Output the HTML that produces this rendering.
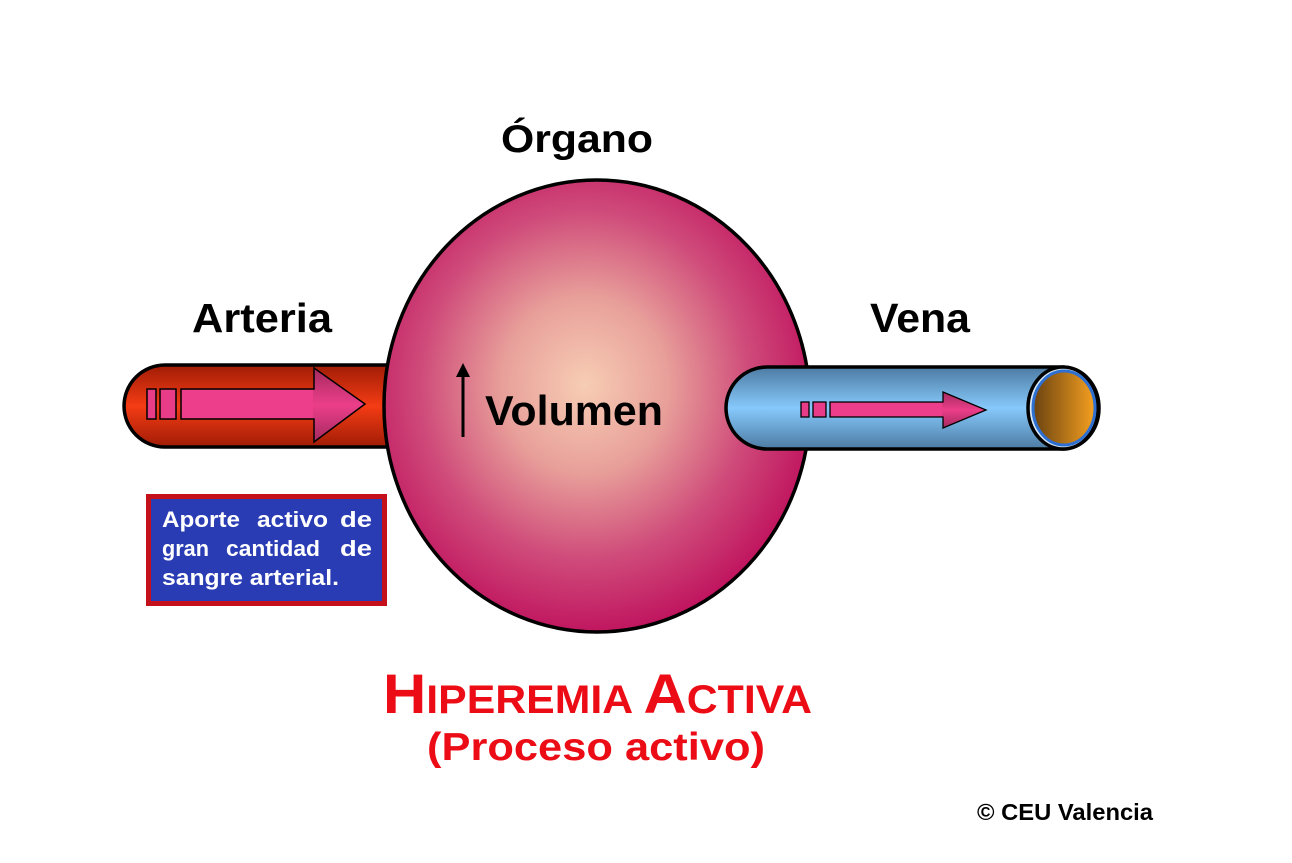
<!DOCTYPE html>
<html><head><meta charset="utf-8"><style>
html,body{margin:0;padding:0;background:#fff;}
svg{display:block;}
text{font-family:"Liberation Sans",Arial,sans-serif;font-weight:bold;}
</style></head><body>
<svg width="1292" height="863" viewBox="0 0 1292 863" xmlns="http://www.w3.org/2000/svg">
<defs>
<linearGradient id="art" x1="0" y1="0" x2="0" y2="1">
<stop offset="0" stop-color="#a01c06"/>
<stop offset="0.5" stop-color="#f43c14"/>
<stop offset="1" stop-color="#a01c06"/>
</linearGradient>
<linearGradient id="ven" x1="0" y1="0" x2="0" y2="1">
<stop offset="0" stop-color="#4d7ba3"/>
<stop offset="0.5" stop-color="#86c9fb"/>
<stop offset="1" stop-color="#4d7ba3"/>
</linearGradient>
<radialGradient id="org" cx="585" cy="385" r="235" gradientUnits="userSpaceOnUse" gradientTransform="translate(585 385) scale(1 1.06) translate(-585 -385)">
<stop offset="0" stop-color="#f7cdb4"/>
<stop offset="0.35" stop-color="#e8a09a"/>
<stop offset="0.7" stop-color="#cf4b7a"/>
<stop offset="1" stop-color="#c0155f"/>
</radialGradient>
<linearGradient id="arrH" x1="0" y1="0" x2="0" y2="1">
<stop offset="0" stop-color="#a42a5e"/>
<stop offset="0.5" stop-color="#ec3e8a"/>
<stop offset="1" stop-color="#a42a5e"/>
</linearGradient>
<linearGradient id="hole" x1="0" y1="0" x2="1" y2="0">
<stop offset="0" stop-color="#6a4210"/>
<stop offset="1" stop-color="#f5a020"/>
</linearGradient>
</defs>

<!-- Artery tube (behind organ) -->
<path d="M165 365 H420 V447 H165 A41 41 0 0 1 165 365 Z" fill="url(#art)" stroke="#000" stroke-width="3.5"/>
<!-- Artery arrow -->
<rect x="147" y="389" width="9" height="30" fill="#e83c88" stroke="#000" stroke-width="1.5"/>
<rect x="160" y="389" width="16" height="30" fill="#e83c88" stroke="#000" stroke-width="1.5"/>
<path d="M181 389 H314 V368 L365 404 L314 442 V419 H181 Z" fill="url(#arrH)" stroke="#000" stroke-width="1.5"/>
<path d="M182 390 H313 V418 H182 Z" fill="#ec3e8a"/>

<!-- Organ -->
<ellipse cx="597" cy="406" rx="213" ry="226" fill="url(#org)" stroke="#000" stroke-width="3.5"/>

<!-- Vein tube (over organ) -->
<path d="M767 367 H1063 A36 41 0 0 1 1063 449 H767 A41 41 0 0 1 767 367 Z" fill="url(#ven)" stroke="#000" stroke-width="3.5"/>
<ellipse cx="1063" cy="408" rx="35" ry="41" fill="#d8e8f4" stroke="#000" stroke-width="3.5"/>
<ellipse cx="1064" cy="408" rx="31" ry="37" fill="url(#hole)" stroke="#2e6fd2" stroke-width="3"/>
<!-- Vein arrow -->
<rect x="801" y="402" width="8" height="15" fill="#e83c88" stroke="#000" stroke-width="1.3"/>
<rect x="813" y="402" width="13" height="15" fill="#e83c88" stroke="#000" stroke-width="1.3"/>
<path d="M830 402 H943 V392 L986 410 L943 428 V417 H830 Z" fill="url(#arrH)" stroke="#000" stroke-width="1.3"/>
<path d="M831 403 H942 V416 H831 Z" fill="#ec3e8a"/>

<!-- Labels -->
<text x="501" y="152" font-size="39" textLength="152" lengthAdjust="spacingAndGlyphs" fill="#000">Órgano</text>
<text x="192" y="332" font-size="41" textLength="140" lengthAdjust="spacingAndGlyphs" fill="#000">Arteria</text>
<text x="870" y="332" font-size="41" textLength="100" lengthAdjust="spacingAndGlyphs" fill="#000">Vena</text>
<text x="485" y="425" font-size="42" textLength="178" lengthAdjust="spacingAndGlyphs" fill="#000">Volumen</text>
<!-- up arrow -->
<line x1="463" y1="374" x2="463" y2="437" stroke="#000" stroke-width="3"/>
<path d="M456 377 L463 363 L470 377 Z" fill="#000"/>

<!-- Blue box -->
<rect x="148.5" y="496.5" width="236" height="107" fill="#2a3cb4" stroke="#c4101a" stroke-width="5"/>
<g fill="#fff" font-size="22">
<text x="162" y="527" textLength="78" lengthAdjust="spacingAndGlyphs">Aporte</text>
<text x="257" y="527" textLength="71" lengthAdjust="spacingAndGlyphs">activo</text>
<text x="340" y="527" textLength="32" lengthAdjust="spacingAndGlyphs">de</text>
<text x="162" y="556" textLength="47" lengthAdjust="spacingAndGlyphs">gran</text>
<text x="226" y="556" textLength="94" lengthAdjust="spacingAndGlyphs">cantidad</text>
<text x="340" y="556" textLength="32" lengthAdjust="spacingAndGlyphs">de</text>
<text x="162" y="585" textLength="177" lengthAdjust="spacingAndGlyphs">sangre arterial.</text>
</g>

<!-- Title -->
<text x="383" y="713" fill="#ec0c16" textLength="429" lengthAdjust="spacingAndGlyphs"><tspan font-size="56">H</tspan><tspan font-size="40">IPEREMIA </tspan><tspan font-size="56">A</tspan><tspan font-size="40">CTIVA</tspan></text>
<text x="427" y="760" font-size="39" fill="#ec0c16" textLength="338" lengthAdjust="spacingAndGlyphs">(Proceso activo)</text>

<text x="977" y="820" font-size="23" fill="#000" textLength="176" lengthAdjust="spacingAndGlyphs">© CEU Valencia</text>
</svg>
</body></html>
